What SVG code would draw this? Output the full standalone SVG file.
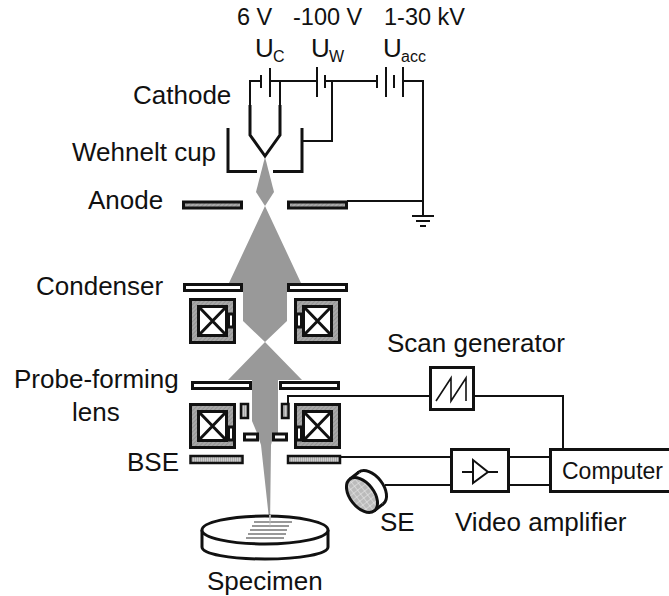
<svg xmlns="http://www.w3.org/2000/svg" width="669" height="596" viewBox="0 0 669 596">
<style>
text{font-family:"Liberation Sans",Arial,sans-serif;font-size:26px;fill:#111}
.w{fill:none;stroke:#111;stroke-width:2}
.t{fill:none;stroke:#111;stroke-width:3}
.plate{fill:#fff;stroke:#111;stroke-width:3}
.hat{fill:url(#h);stroke:#111;stroke-width:3}
.bse{fill:url(#v);stroke:#111;stroke-width:2.5}
.beam{fill:#999;stroke:none}
.top{font-size:23.500px}
.sub{font-size:16px}
</style>
<defs>
<pattern id="h" width="3" height="3" patternUnits="userSpaceOnUse" patternTransform="rotate(45)"><rect width="3" height="3" fill="#a8a8a8"/><rect width="1" height="3" fill="#949494"/></pattern>
<pattern id="v" width="2" height="2" patternUnits="userSpaceOnUse"><rect width="2" height="2" fill="#ccc"/><rect width="1" height="2" fill="#aaa"/></pattern>
<pattern id="c" width="5" height="5" patternUnits="userSpaceOnUse"><rect width="5" height="5" fill="#bbb"/><path d="M0 0H5M0 0V5" stroke="#eee" stroke-width="1"/></pattern>
<g id="coil"><rect x="0" y="0" width="28" height="29" fill="#fff" stroke="#111" stroke-width="3"/><path d="M0 0L28 29M28 0L0 29" class="t"/></g>
</defs>
<g id="beam">
<path class="beam" d="M265 157L274 192L265 206L256 192Z"/>
<path class="beam" d="M265 206L301 283H287V321L265 342L243 321V283H229Z"/>
<path class="beam" d="M265 342L302 380H278V433L272 441L271 445L270 528L261 445L257 433L252 421V380H228Z"/>
</g>
<g id="connectors">
<path class="w" d="M261 81H250V105M280 105V81M270 81H317M325 81H377M403 81H423V216M332 81V141H302M347 201H423M340 457H450M510 457H549M385 485H450M510 485H549M288 403V396H429M475 396H563V448"/>
<path class="w" d="M261 75V88M270 68V97M317 67V97M325 75V88M377 75V88M386 67V97M394 75V88M403 67V97"/>
<path class="w" d="M412 216H434M416 221H430M420 226H426"/>
</g>
<g id="cathode"><path class="t" d="M250 105V135L265 156L280 135V105"/></g>
<g id="wehnelt"><path class="t" d="M228 128V171.500H257M273 171.500H302V128"/></g>
<g id="anode"><rect class="hat" x="183.500" y="202" width="58" height="6"/><rect class="hat" x="288.500" y="202" width="58" height="6"/></g>
<g id="condenser">
<rect class="plate" x="184.500" y="284.500" width="57" height="6"/><rect class="plate" x="288.500" y="284.500" width="58" height="6"/>
<rect class="hat" x="190.500" y="299.500" width="44" height="43"/><use href="#coil" x="198.500" y="306.500"/><rect x="228.500" y="314" width="5" height="13" class="plate"/>
<rect class="hat" x="295.500" y="299.500" width="44" height="43"/><use href="#coil" x="303.500" y="306.500"/><rect x="296.500" y="314" width="5" height="13" class="plate"/>
</g>
<g id="probe-lens">
<rect class="plate" x="192.500" y="382.500" width="58" height="6"/><rect class="plate" x="280.500" y="382.500" width="58" height="6"/>
<rect class="hat" x="190.500" y="404.500" width="44" height="43"/><use href="#coil" x="198.500" y="411.500"/><rect x="228.500" y="427" width="5" height="13" class="plate"/>
<rect class="hat" x="295.500" y="404.500" width="44" height="43"/><use href="#coil" x="303.500" y="411.500"/><rect x="296.500" y="427" width="5" height="13" class="plate"/>
<rect class="bse" x="241" y="404" width="7" height="14"/><rect class="bse" x="282" y="404" width="6.500" height="14"/>
<rect class="plate" x="244.500" y="434" width="13" height="6"/><rect class="plate" x="273.500" y="434" width="13" height="6"/>
</g>
<g id="bse"><rect class="bse" x="190.500" y="456" width="52" height="7"/><rect class="bse" x="288" y="456" width="52" height="7"/></g>
<g id="specimen">
<path d="M202 530V547C202 554 230 559 265 559S328 554 328 547V530" fill="#fff" stroke="#111" stroke-width="3"/>
<ellipse cx="265" cy="530" rx="63" ry="14" fill="#fff" stroke="#111" stroke-width="3"/>
<path d="M254 522H292M252 526H289M250 530H287M248 534H286M246 538H284" fill="none" stroke="#777" stroke-width="1.500"/>
<path d="M269 515L270 529L271 515Z" fill="#bbb"/>
</g>
<g id="se-detector">
<ellipse cx="371" cy="488" rx="20" ry="12" transform="rotate(52 371 488)" fill="#fff" stroke="#111" stroke-width="3"/>
<path d="M350 479L359 472L383 504L374 511Z" fill="#fff"/>
<path d="M350 479L359 472M374 511L383 504" class="t"/>
<ellipse cx="362" cy="495" rx="20" ry="12" transform="rotate(52 362 495)" fill="url(#c)" stroke="#111" stroke-width="3"/>
</g>
<g id="scan-generator"><rect x="430.500" y="367.500" width="43" height="42" fill="#fff" stroke="#111" stroke-width="3"/><path d="M436 401L451 378V401L466 378V401" fill="none" stroke="#111" stroke-width="1.600"/></g>
<g id="amplifier"><rect x="451.500" y="449.500" width="57" height="42" fill="#fff" stroke="#111" stroke-width="3"/><path class="w" d="M462 472H473M473 460V483L488 472ZM488 472H498"/></g>
<g id="computer"><rect x="550.500" y="449.500" width="125" height="42" fill="#fff" stroke="#111" stroke-width="3"/><text x="562" y="479" style="font-size:23px">Computer</text></g>
<g id="labels">
<text x="237" y="25" class="top">6 V</text><text x="293" y="25" class="top">-100 V</text><text x="384" y="25" class="top">1-30 kV</text>
<text x="255" y="57">U</text><text x="273" y="62" class="sub">C</text>
<text x="311" y="57">U</text><text x="329" y="62" class="sub">W</text>
<text x="383" y="57">U</text><text x="401" y="62" class="sub">acc</text>
<text x="133" y="104">Cathode</text><text x="72" y="161">Wehnelt cup</text><text x="88" y="209">Anode</text><text x="36" y="295">Condenser</text>
<text x="14" y="388">Probe-forming</text><text x="72" y="421">lens</text><text x="127" y="471">BSE</text>
<text x="387" y="352">Scan generator</text><text x="380" y="531">SE</text><text x="455" y="531">Video amplifier</text><text x="207" y="590">Specimen</text>
</g>
</svg>
